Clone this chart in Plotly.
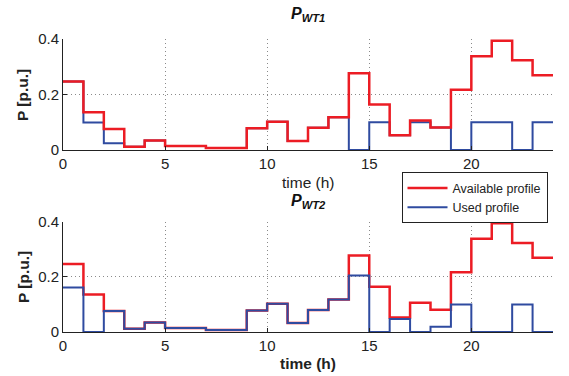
import plotly.graph_objects as go
from plotly.subplots import make_subplots

# ---- data ----
hours = list(range(0, 25))  # hour boundaries 0..24
available = [0.247, 0.136, 0.076, 0.012, 0.034, 0.0145, 0.0145, 0.007, 0.007,
             0.078, 0.102, 0.0325, 0.080, 0.118, 0.277, 0.164, 0.053, 0.106,
             0.081, 0.217, 0.338, 0.394, 0.323, 0.269]
used_wt1 = [0.247, 0.099, 0.024, 0.012, 0.034, 0.0145, 0.0145, 0.007, 0.007,
            0.078, 0.102, 0.0325, 0.080, 0.118, 0.0, 0.100, 0.053, 0.100,
            0.081, 0.0, 0.100, 0.100, 0.0, 0.100]
used_wt2 = [0.161, 0.0, 0.076, 0.012, 0.034, 0.0145, 0.0145, 0.007, 0.007,
            0.078, 0.102, 0.0325, 0.080, 0.118, 0.205, 0.0, 0.047, 0.0,
            0.019, 0.100, 0.0, 0.0, 0.100, 0.0]
x_ticks = [0, 5, 10, 15, 20]
y_ticks = [0, 0.2, 0.4]
y_ticktext = ["0", "0.2", "0.4"]
titles = ["P", "P"]
subs = ["WT1", "WT2"]

RED = "#ec1c24"
BLUE = "#2f4ba0"
FONT = "Arial, Liberation Sans, Helvetica, sans-serif"


def stepy(v):
    return list(v) + [v[-1]]


W, H = 569, 376
ML, MR, MT, MB = 63, 16, 39, 44
PH = H - MT - MB


def py(p):
    return (H - MB - p) / PH


def px(p):
    return (p - ML) / (W - ML - MR)


fig = make_subplots(rows=2, cols=1, vertical_spacing=0.0)

# top: used under available
fig.add_trace(go.Scatter(x=hours, y=stepy(used_wt1), mode="lines", line_shape="hv",
                         line=dict(color=BLUE, width=2), name="Used profile",
                         legendrank=2), row=1, col=1)
fig.add_trace(go.Scatter(x=hours, y=stepy(available), mode="lines", line_shape="hv",
                         line=dict(color=RED, width=2.5), name="Available profile",
                         legendrank=1), row=1, col=1)
# bottom: used over available
fig.add_trace(go.Scatter(x=hours, y=stepy(available), mode="lines", line_shape="hv",
                         line=dict(color=RED, width=2.5), showlegend=False), row=2, col=1)
fig.add_trace(go.Scatter(x=hours, y=stepy(used_wt2), mode="lines", line_shape="hv",
                         line=dict(color=BLUE, width=2), showlegend=False), row=2, col=1)

axis_common = dict(showline=True, linecolor="#222", linewidth=1, mirror=False,
                   ticks="inside", ticklen=4, tickcolor="#222", zeroline=False,
                   showgrid=True, gridcolor="#8a8a8a", griddash="1px,3px", gridwidth=1,
                   tickfont=dict(family=FONT, size=15, color="#222"))

for r in (1, 2):
    fig.update_xaxes(range=[0, 24], tickvals=x_ticks, row=r, col=1, **axis_common)
    fig.update_yaxes(range=[0, 0.4], tickvals=y_ticks, ticktext=y_ticktext,
                     row=r, col=1, **axis_common)

fig.update_layout(
    xaxis=dict(domain=[0, 1]),
    yaxis=dict(domain=[py(150), 1.0]),
    xaxis2=dict(domain=[0, 1]),
    yaxis2=dict(domain=[0, py(221.7)]),
)

ann = []
cx = 0.5
common_ann = dict(xref="paper", yref="paper", showarrow=False,
                  xanchor="center", yanchor="middle")
# titles
for t, s, ypix in zip(titles, subs, [15, 201]):
    ann.append(dict(text=f"<b><i>{t}</i></b><sub><b><i>{s}</i></b></sub>",
                    x=cx, y=py(ypix),
                    font=dict(family=FONT, size=16, color="#111"), **common_ann))
# x titles
ann.append(dict(text="time (h)", x=cx, y=py(182),
                font=dict(family=FONT, size=15.5, color="#222"), **common_ann))
ann.append(dict(text="<b>time (h)</b>", x=cx, y=py(363),
                font=dict(family=FONT, size=15.5, color="#222"), **common_ann))
# y titles
for ypix in (95, 277):
    ann.append(dict(text="<b>P [p.u.]</b>", x=px(23), y=py(ypix), textangle=-90,
                    font=dict(family=FONT, size=15.5, color="#222"), **common_ann))

fig.update_layout(
    width=W, height=H,
    margin=dict(l=ML, r=MR, t=MT, b=MB),
    paper_bgcolor="white", plot_bgcolor="white",
    annotations=ann,
    showlegend=True,
    legend=dict(x=px(401.5), y=py(172.3), xanchor="left", yanchor="top",
                bgcolor="white", bordercolor="#222", borderwidth=1,
                font=dict(family=FONT, size=12.5, color="#222"),
                tracegroupgap=0, itemwidth=40),
)

fig.write_html("out.html")
